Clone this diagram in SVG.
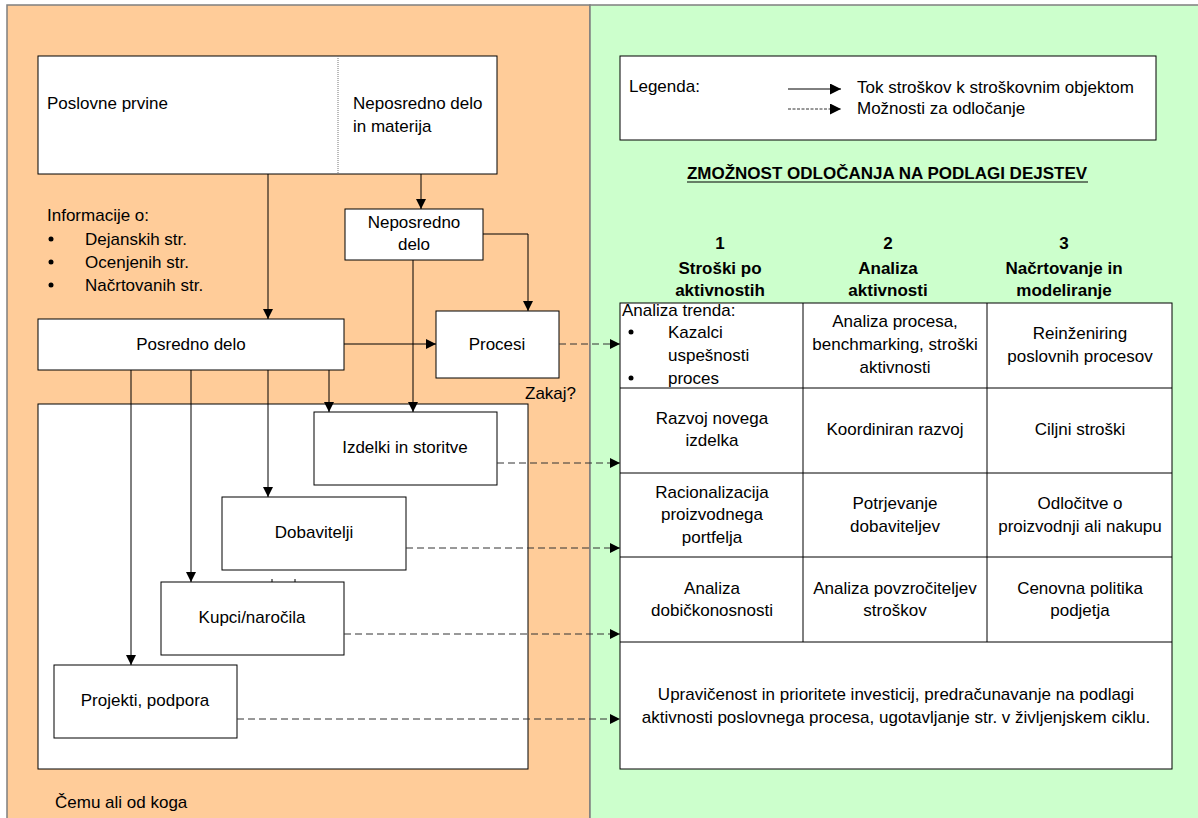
<svg xmlns="http://www.w3.org/2000/svg" width="1198" height="818" viewBox="0 0 1198 818">
  <style>
    text { font-family: "Liberation Sans", Arial, sans-serif; font-size: 17px; fill: #000; }
    .c { text-anchor: middle; }
    .b { font-weight: bold; }
    .box { fill: #fff; stroke: #000; stroke-width: 1; }
    .flow { fill: none; stroke: #000; stroke-width: 1; }
    .opt { fill: none; stroke: #333; stroke-width: 1; stroke-dasharray: 7 4; }
    .grid { fill: none; stroke: #000; stroke-width: 1; }
  </style>
  <defs>
    <marker id="arr" viewBox="0 0 10 10" refX="10" refY="5" markerWidth="10" markerHeight="10" markerUnits="userSpaceOnUse" orient="auto">
      <path d="M0,0 L10,5 L0,10 Z" fill="#000"/>
    </marker>
    <marker id="arrL" viewBox="0 0 10 10" refX="10" refY="5" markerWidth="13" markerHeight="11" markerUnits="userSpaceOnUse" orient="auto">
      <path d="M0,0 L10,5 L0,10 Z" fill="#000"/>
    </marker>
  </defs>

  <!-- panels -->
  <rect x="7" y="5" width="583" height="820" fill="#FFCC99" stroke="#7f7f7f" stroke-width="1.5"/>
  <rect x="590" y="5" width="620" height="820" fill="#CCFFCC" stroke="#7f7f7f" stroke-width="1.5"/>

  <!-- left side -->
  <g id="poslovne-prvine">
    <rect class="box" x="38" y="56" width="459" height="118"/>
    <line x1="338" y1="56" x2="338" y2="174" stroke="#777" stroke-width="1" stroke-dasharray="1 1"/>
    <text x="47" y="109">Poslovne prvine</text>
    <text x="353" y="109">Neposredno delo</text>
    <text x="353" y="132">in materija</text>
  </g>

  <g id="informacije">
    <text x="47" y="221">Informacije o:</text>
    <circle cx="51" cy="239" r="2.5"/>
    <text x="85" y="245">Dejanskih str.</text>
    <circle cx="51" cy="262" r="2.5"/>
    <text x="85" y="268">Ocenjenih str.</text>
    <circle cx="51" cy="285" r="2.5"/>
    <text x="85" y="291">Načrtovanih str.</text>
  </g>

  <g id="neposredno-delo">
    <rect class="box" x="345" y="209" width="138" height="51"/>
    <text class="c" x="414" y="228">Neposredno</text>
    <text class="c" x="414" y="250">delo</text>
  </g>

  <g id="posredno-delo">
    <rect class="box" x="38" y="319" width="306" height="51"/>
    <text class="c" x="191" y="350">Posredno delo</text>
  </g>

  <g id="procesi">
    <rect class="box" x="436" y="311" width="123" height="67"/>
    <text class="c" x="497" y="350">Procesi</text>
  </g>
  <text x="525" y="399">Zakaj?</text>

  <g id="stroskovni-objekti">
    <rect class="box" x="38" y="404" width="490" height="365"/>
  </g>

  <g id="izdelki">
    <rect class="box" x="314" y="412" width="183" height="73"/>
    <text class="c" x="405" y="453">Izdelki in storitve</text>
  </g>

  <g id="dobavitelji">
    <rect class="box" x="222" y="497" width="184" height="73"/>
    <text class="c" x="314" y="538">Dobavitelji</text>
  </g>

  <g id="kupci">
    <rect class="box" x="161" y="582" width="183" height="73"/>
    <text class="c" x="252" y="623">Kupci/naročila</text>
    <line x1="272" y1="579" x2="272" y2="582" stroke="#000"/>
    <line x1="295" y1="579" x2="295" y2="582" stroke="#000"/>
  </g>

  <g id="projekti">
    <rect class="box" x="54" y="665" width="183" height="73"/>
    <text class="c" x="145" y="706">Projekti, podpora</text>
  </g>

  <text x="55" y="808">Čemu ali od koga</text>

  <!-- right side -->
  <g id="legenda">
    <rect class="box" x="620" y="56" width="536" height="84"/>
    <text x="629" y="92">Legenda:</text>
    <line x1="788" y1="89" x2="841" y2="89" stroke="#000" marker-end="url(#arrL)"/>
    <line x1="788" y1="109" x2="841" y2="109" stroke="#333" stroke-dasharray="3 1.5" marker-end="url(#arrL)"/>
    <text x="857" y="93">Tok stroškov k stroškovnim objektom</text>
    <text x="857" y="114">Možnosti za odločanje</text>
  </g>

  <g id="naslov">
    <text class="c b" x="887" y="179">ZMOŽNOST ODLOČANJA NA PODLAGI DEJSTEV</text>
    <line x1="687" y1="182" x2="1088" y2="182" stroke="#000" stroke-width="1.2"/>
  </g>

  <g id="glave">
    <text class="c b" x="720" y="249">1</text>
    <text class="c b" x="720" y="274">Stroški po</text>
    <text class="c b" x="720" y="296">aktivnostih</text>
    <text class="c b" x="888" y="249">2</text>
    <text class="c b" x="888" y="274">Analiza</text>
    <text class="c b" x="888" y="296">aktivnosti</text>
    <text class="c b" x="1064" y="249">3</text>
    <text class="c b" x="1064" y="274">Načrtovanje in</text>
    <text class="c b" x="1064" y="296">modeliranje</text>
  </g>

  <g id="tabela">
    <rect x="620" y="303" width="552" height="466" fill="#fff" stroke="#000"/>
    <path class="grid" d="M620,388 H1172 M620,473 H1172 M620,557 H1172 M620,642 H1172 M803,303 V642 M987,303 V642"/>

    <text x="622" y="316">Analiza trenda:</text>
    <circle cx="631" cy="332" r="2.5"/>
    <text x="668" y="338">Kazalci</text>
    <text x="668" y="361">uspešnosti</text>
    <circle cx="631" cy="378" r="2.5"/>
    <text x="668" y="384">proces</text>
    <text class="c" x="895" y="327">Analiza procesa,</text>
    <text class="c" x="895" y="350">benchmarking, stroški</text>
    <text class="c" x="895" y="373">aktivnosti</text>
    <text class="c" x="1080" y="339">Reinženiring</text>
    <text class="c" x="1080" y="362">poslovnih procesov</text>

    <text class="c" x="712" y="424">Razvoj novega</text>
    <text class="c" x="712" y="446">izdelka</text>
    <text class="c" x="895" y="435">Koordiniran razvoj</text>
    <text class="c" x="1080" y="435">Ciljni stroški</text>

    <text class="c" x="712" y="498">Racionalizacija</text>
    <text class="c" x="712" y="520">proizvodnega</text>
    <text class="c" x="712" y="543">portfelja</text>
    <text class="c" x="895" y="509">Potrjevanje</text>
    <text class="c" x="895" y="532">dobaviteljev</text>
    <text class="c" x="1080" y="509">Odločitve o</text>
    <text class="c" x="1080" y="532">proizvodnji ali nakupu</text>

    <text class="c" x="712" y="594">Analiza</text>
    <text class="c" x="712" y="616">dobičkonosnosti</text>
    <text class="c" x="895" y="594">Analiza povzročiteljev</text>
    <text class="c" x="895" y="616">stroškov</text>
    <text class="c" x="1080" y="594">Cenovna politika</text>
    <text class="c" x="1080" y="616">podjetja</text>

    <text class="c" x="896" y="700">Upravičenost in prioritete investicij, predračunavanje na podlagi</text>
    <text class="c" x="896" y="723">aktivnosti poslovnega procesa, ugotavljanje str. v življenjskem ciklu.</text>
  </g>

  <!-- connectors -->
  <g id="povezave">
    <line class="flow" x1="268" y1="174" x2="268" y2="319" marker-end="url(#arr)"/>
    <line class="flow" x1="421" y1="174" x2="421" y2="209" marker-end="url(#arr)"/>
    <path class="flow" d="M483,234 H528 V311" marker-end="url(#arr)"/>
    <line class="flow" x1="413" y1="260" x2="413" y2="412" marker-end="url(#arr)"/>
    <line class="flow" x1="344" y1="344" x2="436" y2="344" marker-end="url(#arr)"/>
    <line class="flow" x1="329" y1="370" x2="329" y2="412" marker-end="url(#arr)"/>
    <line class="flow" x1="268" y1="370" x2="268" y2="497" marker-end="url(#arr)"/>
    <line class="flow" x1="191" y1="370" x2="191" y2="582" marker-end="url(#arr)"/>
    <line class="flow" x1="131" y1="370" x2="131" y2="665" marker-end="url(#arr)"/>

    <line class="opt" x1="559" y1="344" x2="620" y2="344" marker-end="url(#arr)"/>
    <line class="opt" x1="497" y1="463" x2="620" y2="463" marker-end="url(#arr)"/>
    <line class="opt" x1="406" y1="548" x2="620" y2="548" marker-end="url(#arr)"/>
    <line class="opt" x1="344" y1="634" x2="620" y2="634" marker-end="url(#arr)"/>
    <line class="opt" x1="237" y1="719" x2="620" y2="719" marker-end="url(#arr)"/>
  </g>
</svg>
